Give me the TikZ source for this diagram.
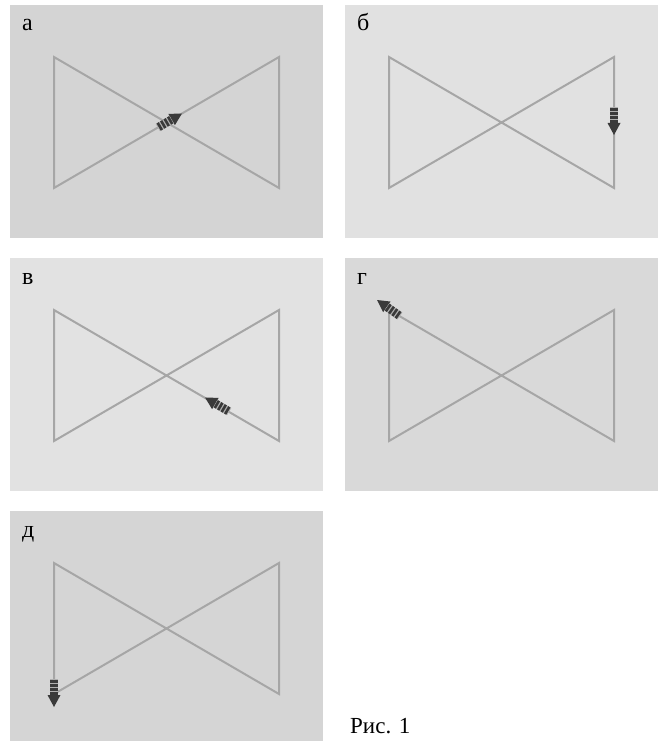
\documentclass[tikz,border=0pt]{standalone}
\usepackage{fontspec}
\setmainfont{Liberation Serif}
\usetikzlibrary{calc}
\definecolor{panelA}{HTML}{D4D4D4}
\definecolor{panelB}{HTML}{E1E1E1}
\definecolor{panelC}{HTML}{E2E2E2}
\definecolor{panelD}{HTML}{D9D9D9}
\definecolor{panelE}{HTML}{D5D5D5}
\definecolor{bowgray}{HTML}{A6A6A6}
\definecolor{arrowdark}{HTML}{3A3A3A}
\definecolor{stripegap}{HTML}{B0B0B0}
\tikzset{
  panelbox/.style={fill=#1,draw=none},
  bowline/.style={draw=bowgray,line width=2pt,line join=miter},
  panellabel/.style={anchor=base west,inner sep=0pt,font=\fontsize{24}{24}\selectfont},
  caption/.style={anchor=base west,inner sep=0pt,font=\fontsize{23}{23}\selectfont},
  pics/cursorarrow/.style={code={
    % head, then the striped tail
    \fill[arrowdark] (0,0) -- (-12,6.5) -- (-12,-6.5) -- cycle;
    \fill[stripegap] (-28,-4.2) rectangle (-12,4.2);
    \foreach \k in {0,...,3}
      \fill[arrowdark] (-12.4-\k*4,-4.2) rectangle ++(-2.6,8.4);
  }},
}
\begin{document}
\begin{tikzpicture}[x=1pt,y=-1pt]
  \useasboundingbox (0,0) rectangle (657,741);
  % five panels with the bow-tie path
  \foreach \dx/\dy/\col/\lab/\nm in {0/0/panelA/а/a,335/0/panelB/б/b,
      0/253/panelC/в/c,335/253/panelD/г/d,0/506/panelE/д/e}{
    \begin{scope}[shift={(\dx,\dy)}]
      \path[panelbox=\col] (10,5) rectangle (323,238);
      \draw[bowline] (54,57) -- (279,188) -- (279,57) -- (54,188) -- cycle;
      \node[panellabel] (lab-\nm) at (22,31) {\lab};
    \end{scope}
  }
  % arrow marks
  \pic[rotate=30.2] at (182,113.5) {cursorarrow};
  \pic[rotate=-90] at (614,135) {cursorarrow};
  \pic[rotate=149.8] at (205,397.5) {cursorarrow};
  \pic[rotate=145] at (377,300) {cursorarrow};
  \pic[rotate=-90] at (54,707) {cursorarrow};
  \node[caption] (fig) at (350,733) {Рис. 1};
\end{tikzpicture}
\end{document}
